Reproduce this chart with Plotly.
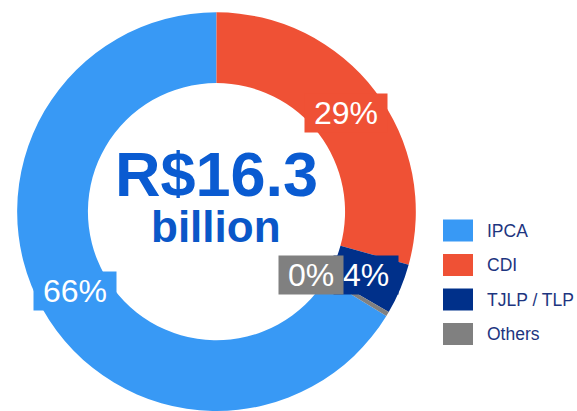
import math
import plotly.graph_objects as go

W, H = 577, 411

categories = ["IPCA", "CDI", "TJLP / TLP", "Others"]
values = [10.79, 4.77, 0.67, 0.06]  # R$ billion
colors = ["#3899F5", "#EF5135", "#00308A", "#808080"]
total_label = "R$16.3"
unit_label = "billion"

total = sum(values)
pcts = [f"{round(100 * v / total)}%" for v in values]

# pie placement
dom_x = [0.0297, 0.7207]
dom_y = [0.0, 0.97]
hole = 0.645

# first slice (IPCA) must end at 12 o'clock, going clockwise
rotation = 360 * (1 - values[0] / total)

fig = go.Figure(go.Pie(
    labels=categories,
    values=values,
    marker=dict(colors=colors, line=dict(width=0)),
    hole=hole,
    sort=False,
    direction="clockwise",
    rotation=rotation,
    textinfo="none",
    hoverinfo="label+percent",
    domain=dict(x=dom_x, y=dom_y),
    showlegend=False,
))

# pie centre / radius in pixels (paper coords, zero margins)
cx = (dom_x[0] + dom_x[1]) / 2 * W
cy = (1 - (dom_y[0] + dom_y[1]) / 2) * H
R = min((dom_x[1] - dom_x[0]) * W, (dom_y[1] - dom_y[0]) * H) / 2
r_lab = R * 0.815

annotations = []
fs = 32
start = rotation
label_pos = []
for v in values:
    span = 360 * v / total
    mid = math.radians(start + span / 2)
    label_pos.append([cx + r_lab * math.sin(mid), cy - r_lab * math.cos(mid)])
    start += span

widths = [fs * (0.556 * (len(p) - 1) + 0.889) + 16 for p in pcts]
# smallest slice label pushed left of its neighbour
label_pos[3] = [label_pos[2][0] - 0.88 * widths[2], label_pos[2][1]]

for (x, y), p, c, w in zip(label_pos, pcts, colors, widths):
    annotations.append(dict(
        x=x / W, y=1 - y / H, xref="paper", yref="paper",
        xanchor="center", yanchor="middle", showarrow=False,
        text=p, width=w, bgcolor=c, borderpad=1,
        font=dict(family="Liberation Sans", size=fs, color="white"),
    ))

# centre text
annotations.append(dict(
    x=cx / W, y=1 - 174 / H, xref="paper", yref="paper",
    xanchor="center", yanchor="middle", showarrow=False,
    text=f"<b>{total_label}</b>", height=48, borderpad=0,
    font=dict(family="Liberation Sans", size=63, color="#0A5BD1"),
))
annotations.append(dict(
    x=cx / W, y=1 - 226 / H, xref="paper", yref="paper",
    xanchor="center", yanchor="middle", showarrow=False,
    text=f"<b>{unit_label}</b>", height=36, borderpad=0,
    font=dict(family="Liberation Sans", size=44, color="#0A57C8"),
))

# legend
shapes = []
leg_x0, leg_x1, leg_y0, leg_step, sw_h = 443, 473, 230.5, 34.5, 22
for i, (cat, c) in enumerate(zip(categories, colors)):
    yc = leg_y0 + i * leg_step
    shapes.append(dict(
        type="rect", xref="paper", yref="paper",
        x0=leg_x0 / W, x1=leg_x1 / W,
        y0=1 - (yc + sw_h / 2) / H, y1=1 - (yc - sw_h / 2) / H,
        fillcolor=c, line=dict(width=0),
    ))
    annotations.append(dict(
        x=485 / W, y=1 - yc / H, xref="paper", yref="paper",
        xanchor="left", yanchor="middle", showarrow=False,
        text=cat, font=dict(family="Liberation Sans", size=17.5, color="#1D3580"),
    ))

fig.update_layout(
    width=W, height=H,
    margin=dict(l=0, r=0, t=0, b=0),
    paper_bgcolor="white", plot_bgcolor="white",
    annotations=annotations, shapes=shapes,
)

fig.write_html("out.html", config={"displayModeBar": False},
               post_script="document.body.style.margin='0';")
